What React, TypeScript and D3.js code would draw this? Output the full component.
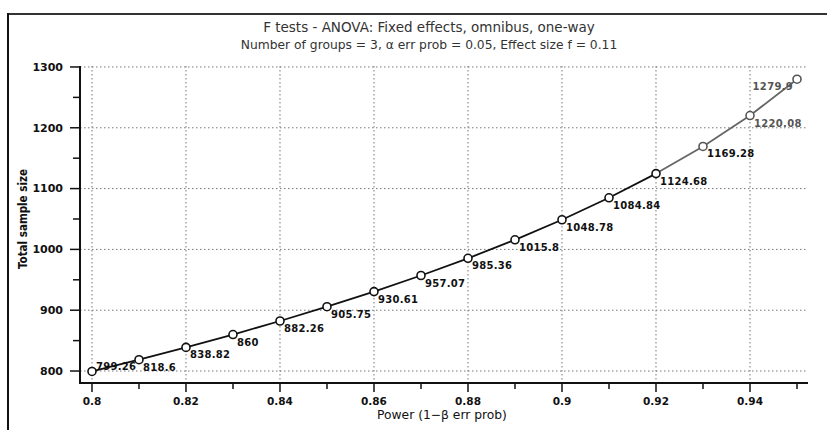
import React from "react";
import * as d3 from "d3";

// Power analysis curve: total sample size needed for each target power
const powerLevels = [0.8, 0.81, 0.82, 0.83, 0.84, 0.85, 0.86, 0.87, 0.88, 0.89, 0.9, 0.91, 0.92, 0.93, 0.94, 0.95];
const sampleSizes = [799.26, 818.6, 838.82, 860, 882.26, 905.75, 930.61, 957.07, 985.36, 1015.8, 1048.78, 1084.84, 1124.68, 1169.28, 1220.08, 1279.9];
const sampleLabels = ["799.26", "818.6", "838.82", "860", "882.26", "905.75", "930.61", "957.07", "985.36", "1015.8", "1048.78", "1084.84", "1124.68", "1169.28", "1220.08", "1279.9"];
const xMajorTicks = [0.8, 0.82, 0.84, 0.86, 0.88, 0.9, 0.92, 0.94];
const xMinorTicks = [0.81, 0.83, 0.85, 0.87, 0.89, 0.91, 0.93, 0.95];
const yMajorTicks = [800, 900, 1000, 1100, 1200, 1300];
const yMinorTicks = [850, 950, 1050, 1150, 1250];

const titleText = "F tests - ANOVA: Fixed effects, omnibus, one-way";
const subtitleText = "Number of groups = 3, \u03b1 err prob = 0.05, Effect size f = 0.11";
const xAxisTitle = "Power (1\u2212\u03b2 err prob)";
const yAxisTitle = "Total sample size";

const W = 827;
const H = 430;
const plotLeft = 80;
const plotRight = 808;
const plotTop = 66;
const plotBottom = 383;

const FONT = "'DejaVu Sans', 'Liberation Sans', sans-serif";
const FONT_COND = "'DejaVu Sans Condensed', 'DejaVu Sans', sans-serif";

export default function App() {
  const x = d3.scaleLinear().domain([0.79745, 0.95234]).range([plotLeft, plotRight]);
  const y = d3.scaleLinear().domain([780.3, 1301.6]).range([plotBottom, plotTop]);

  const pts = powerLevels.map((p, i) => ({ p, n: sampleSizes[i], label: sampleLabels[i], i }));
  const line = d3.line<{ p: number; n: number }>().x((d) => x(d.p)).y((d) => y(d.n));

  const fadeFrom = 12; // curve turns lighter beyond this point
  const darkPart = pts.slice(0, fadeFrom + 1);
  const lightPart = pts.slice(fadeFrom);
  const last = pts.length - 1;

  const fmtX = (v: number) => String(+v.toFixed(2));

  return (
    <svg width={W} height={H} style={{ display: "block", position: "absolute", left: 0, top: 0, background: "#fff" }}>
      {/* outer frame lines */}
      <line x1={8} x2={W} y1={14} y2={14} stroke="#333" strokeWidth={2} />
      <line x1={8} x2={8} y1={13} y2={H} stroke="#111" strokeWidth={2} />

      {/* title */}
      <text x={429} y={32} textAnchor="middle" fontFamily={FONT} fontSize={13.5} fill="#333">
        {titleText}
      </text>
      <text x={429} y={49} textAnchor="middle" fontFamily={FONT} fontSize={12.3} fill="#333">
        {subtitleText}
      </text>

      {/* grid */}
      {xMajorTicks.map((t) => (
        <line key={"gx" + t} x1={x(t)} x2={x(t)} y1={plotTop} y2={plotBottom} stroke="#777" strokeWidth={1} strokeDasharray="1.5,2.5" />
      ))}
      {yMajorTicks.map((t) => (
        <line key={"gy" + t} x1={plotLeft} x2={plotRight} y1={y(t)} y2={y(t)} stroke="#777" strokeWidth={1} strokeDasharray="1.5,2.5" />
      ))}

      {/* axes */}
      <line x1={plotLeft} x2={plotLeft} y1={plotTop} y2={plotBottom + 1} stroke="#111" strokeWidth={2} />
      <line x1={plotLeft - 1} x2={plotRight} y1={plotBottom} y2={plotBottom} stroke="#111" strokeWidth={2} />

      {yMajorTicks.map((t) => (
        <g key={"yt" + t}>
          <line x1={plotLeft - 10} x2={plotLeft} y1={y(t)} y2={y(t)} stroke="#111" strokeWidth={1.5} />
          <text x={plotLeft - 17} y={y(t)} dy="0.35em" textAnchor="end" fontFamily={FONT} fontSize={11} fontWeight="bold" fill="#111">
            {t}
          </text>
        </g>
      ))}
      {yMinorTicks.map((t) => (
        <line key={"ym" + t} x1={plotLeft - 7} x2={plotLeft} y1={y(t)} y2={y(t)} stroke="#111" strokeWidth={1.5} />
      ))}
      {xMajorTicks.map((t) => (
        <g key={"xt" + t}>
          <line x1={x(t)} x2={x(t)} y1={plotBottom} y2={plotBottom + 9} stroke="#111" strokeWidth={1.5} />
          <text x={x(t)} y={plotBottom + 22} textAnchor="middle" fontFamily={FONT} fontSize={10.5} fontWeight="bold" fill="#111">
            {fmtX(t)}
          </text>
        </g>
      ))}
      {xMinorTicks.map((t) => (
        <line key={"xm" + t} x1={x(t)} x2={x(t)} y1={plotBottom} y2={plotBottom + 6} stroke="#111" strokeWidth={1.5} />
      ))}

      {/* axis titles */}
      <text x={442} y={419} textAnchor="middle" fontFamily={FONT} fontSize={12.3} fill="#111">
        {xAxisTitle}
      </text>
      <text transform={`translate(27,219) rotate(-90)`} textAnchor="middle" fontFamily={FONT_COND} fontSize={11.5} fontWeight="bold" fill="#111">
        {yAxisTitle}
      </text>

      {/* curve */}
      <path d={line(darkPart) ?? ""} fill="none" stroke="#111" strokeWidth={1.8} />
      <path d={line(lightPart) ?? ""} fill="none" stroke="#666" strokeWidth={1.8} />

      {pts.map((d) => (
        <circle key={"c" + d.i} cx={x(d.p)} cy={y(d.n)} r={4} fill="#fff" stroke={d.i > fadeFrom ? "#555" : "#111"} strokeWidth={1.6} />
      ))}

      {/* value labels */}
      {pts.map((d) => {
        let lx = x(d.p) + 4;
        let ly = y(d.n) + 11;
        let anchor = "start";
        if (d.i === 0) {
          lx = x(d.p) + 4;
          ly = y(d.n) - 1;
        }
        if (d.i === last) {
          lx = x(d.p) - 4;
          ly = y(d.n) + 11;
          anchor = "end";
        }
        return (
          <text key={"l" + d.i} x={lx} y={ly} textAnchor={anchor} fontFamily={FONT} fontSize={10} fontWeight="bold" fill={d.i > fadeFrom + 1 ? "#555" : "#111"} letterSpacing={0.3}>
            {d.label}
          </text>
        );
      })}
    </svg>
  );
}
